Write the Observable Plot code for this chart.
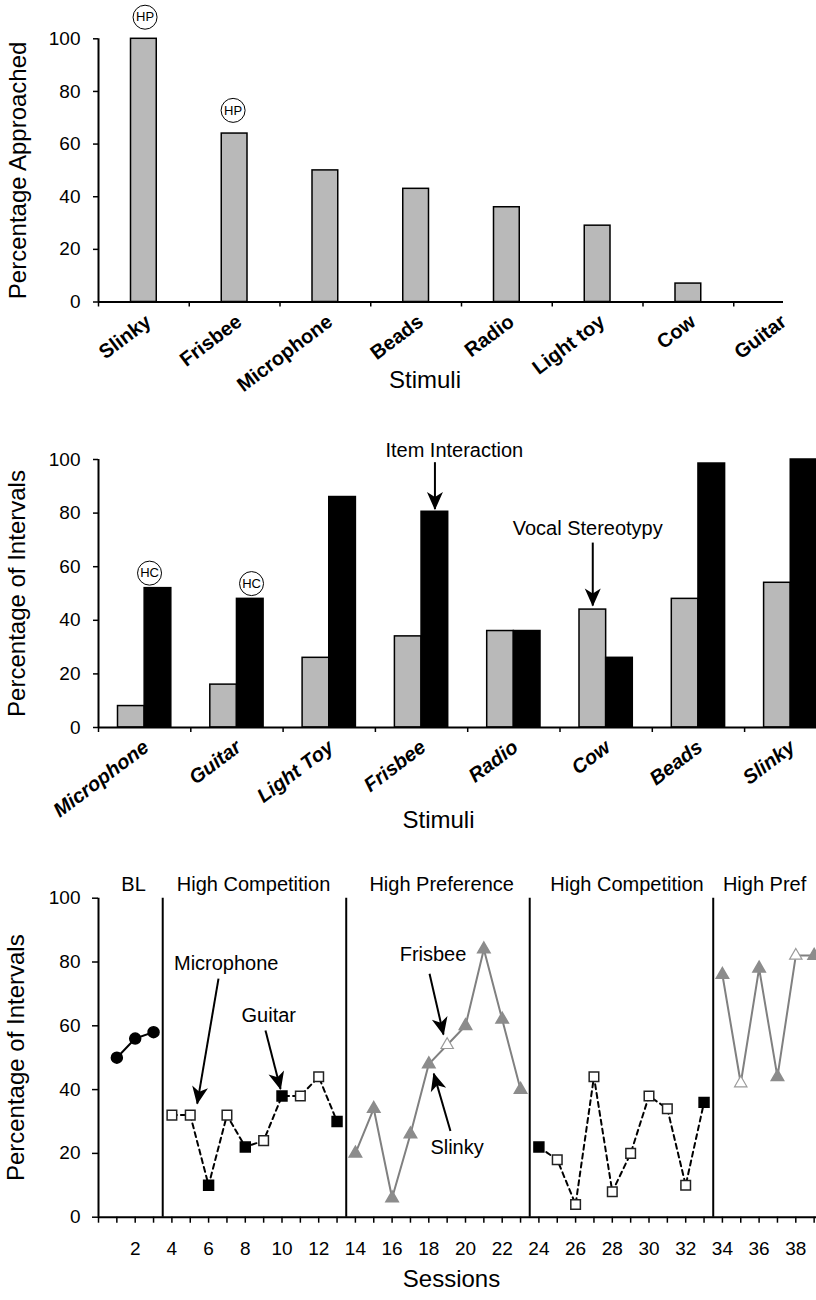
<!DOCTYPE html>
<html>
<head>
<meta charset="utf-8">
<script src="https://cdn.jsdelivr.net/npm/d3@7"></script>
<script src="https://cdn.jsdelivr.net/npm/@observablehq/plot@0.6"></script>
<style>
  html, body { margin: 0; padding: 0; background: #fff; }
  body { width: 816px; overflow: hidden; }
  #chart svg { display: block; }
</style>
</head>
<body>
<div id="chart"></div>
<script>
// ---------- Panel 1 data ----------
const stimuli1 = ["Slinky", "Frisbee", "Microphone", "Beads", "Radio", "Light toy", "Cow", "Guitar"];
const approached = [100, 64, 50, 43, 36, 29, 7, 0];
const hpLabelX = [0.513, 1.483];   // band units
const hpLabelY = [108.2, 72.8];

// ---------- Panel 2 data ----------
const stimuli2 = ["Microphone", "Guitar", "Light Toy", "Frisbee", "Radio", "Cow", "Beads", "Slinky"];
const vocalStereotypy = [8, 16, 26, 34, 36, 44, 48, 54];      // gray bars
const itemInteraction = [52, 48, 86, 80.5, 36, 26, 98.5, 100]; // black bars
const hcLabelX = [0.553, 1.658];
const hcLabelY = [57.6, 53.7];
const p2Notes = ["Item Interaction", "Vocal Stereotypy"];
const p2NoteX = [3.855, 5.30];
const p2NoteY = [103.4, 74.3];
const p2ArrowX = [3.645, 5.355];
const p2ArrowFrom = [99, 69];
const p2ArrowTo = [81.5, 45.5];

// ---------- Panel 3 data ----------
const blSessions = [1, 2, 3];
const blValues = [50, 56, 58];
const hc1Sessions = [4, 5, 6, 7, 8, 9, 10, 11, 12, 13];
const hc1Values = [32, 32, 10, 32, 22, 24, 38, 38, 44, 30];
const hc1Items = ["Microphone", "Microphone", "Guitar", "Microphone", "Guitar", "Microphone", "Guitar", "Microphone", "Microphone", "Guitar"];
const hp1Sessions = [14, 15, 16, 17, 18, 19, 20, 21, 22, 23];
const hp1Values = [20, 34, 6, 26, 48, 54, 60, 84, 62, 40];
const hp1Items = ["Slinky", "Slinky", "Slinky", "Slinky", "Slinky", "Frisbee", "Slinky", "Slinky", "Slinky", "Slinky"];
const hc2Sessions = [24, 25, 26, 27, 28, 29, 30, 31, 32, 33];
const hc2Values = [22, 18, 4, 44, 8, 20, 38, 34, 10, 36];
const hc2Items = ["Guitar", "Microphone", "Microphone", "Microphone", "Microphone", "Microphone", "Microphone", "Microphone", "Microphone", "Guitar"];
const hp2Sessions = [34, 35, 36, 37, 38, 39];
const hp2Values = [76, 42, 78, 44, 82, 82];
const hp2Items = ["Slinky", "Frisbee", "Slinky", "Slinky", "Frisbee", "Slinky"];

const phaseChanges = [3.5, 13.5, 23.5, 33.5];
const phaseNames = ["BL", "High Competition", "High Preference", "High Competition", "High Pref"];
const phaseCenters = [1.91, 8.45, 18.7, 28.8, 36.3];
const sessionTicks = d3.range(0, 40);
const sessionLabels = [2, 4, 6, 8, 10, 12, 14, 16, 18, 20, 22, 24, 26, 28, 30, 32, 34, 36, 38];
const yTicks = [0, 20, 40, 60, 80, 100];

const p3Notes = ["Microphone", "Guitar", "Frisbee", "Slinky"];
const p3NoteX = [6.96, 9.28, 18.23, 19.54];
const p3NoteY = [79.5, 63.2, 82.2, 21.9];
const p3ArrowX1 = [6.54, 9.1, 18.04, 19.18];
const p3ArrowY1 = [74.8, 58.5, 76.3, 27];
const p3ArrowX2 = [5.38, 9.92, 18.8, 18.27];
const p3ArrowY2 = [35.6, 40.2, 57.3, 45];

// ---------- helpers ----------
const FONT = '"Liberation Sans", Arial, Helvetica, sans-serif';
const NARROW = '"Liberation Sans Narrow", "Arial Narrow", "Liberation Sans", Arial, sans-serif';
const baseStyle = {fontFamily: FONT, fontSize: "19px", color: "black", background: "white", overflow: "hidden"};
const GRAYBAR = "#b9b9b9";
const GRAYTRI = "#8c8c8c";

function headMarker(color, context) {
  const m = d3.create("svg:marker")
    .attr("viewBox", "-19 -10 21 20")
    .attr("markerWidth", 21).attr("markerHeight", 20)
    .attr("markerUnits", "userSpaceOnUse")
    .attr("orient", "auto")
    .attr("refX", 0).attr("refY", 0)
    .attr("overflow", "visible");
  m.append("path").attr("d", "M1,0L-17,-8L-12,0L-17,8Z").attr("fill", "black").attr("stroke", "none");
  return m.node();
}

function arrowMark(data, useMarker) {
  if (useMarker) {
    return Plot.link(data, {x1: "x1", y1: "y1", x2: "x2", y2: "y2", stroke: "black", strokeWidth: 2, markerEnd: headMarker});
  }
  return Plot.arrow(data, {x1: "x1", y1: "y1", x2: "x2", y2: "y2", stroke: "black", strokeWidth: 2.5, headLength: 16, headAngle: 50});
}

function render(useMarker) {
  // ----- Panel 1 -----
  const rows1 = stimuli1.map((s, i) => ({i, s, v: approached[i]}));
  const hp1 = hpLabelX.map((x, i) => ({x, y: hpLabelY[i]}));
  const p1 = Plot.plot({
    width: 816, height: 410,
    marginLeft: 98, marginRight: 33, marginTop: 38.3, marginBottom: 108.5,
    style: baseStyle,
    x: {domain: [0, 8], range: [98, 98 + 8 * 90.75], axis: null},
    y: {domain: [0, 100], axis: null},
    marks: [
      Plot.rectY(rows1, {x1: d => d.i, x2: d => d.i + 1, y1: 0, y2: "v", fill: GRAYBAR, stroke: "black", strokeWidth: 1.5, insetLeft: 32.5, insetRight: 32.5}),
      Plot.ruleY([0], {strokeWidth: 2}),
      Plot.ruleX([0], {strokeWidth: 2}),
      Plot.axisY(yTicks, {anchor: "left", tickSize: 5, tickPadding: 13, label: null, strokeWidth: 1.5}),
      Plot.axisX(d3.range(0, 8), {anchor: "bottom", tickSize: 5, tickFormat: () => "", label: null, strokeWidth: 1.5}),
      Plot.text(rows1, {x: d => d.i + 0.5, y: 0, text: "s", rotate: -37, textAnchor: "end", lineAnchor: "top", dx: 0, dy: 11, fontSize: 20, fontWeight: "bold"}),
      Plot.dot(hp1, {x: "x", y: "y", r: 12, fill: "white", stroke: "black", strokeWidth: 1}),
      Plot.text(hp1, {x: "x", y: "y", text: () => "HP", fontSize: 13, fontFamily: NARROW}),
      Plot.text(["Stimuli"], {frameAnchor: "bottom", textAnchor: "middle", dx: -16, dy: 86, fontSize: 24}),
      Plot.text(["Percentage Approached"], {frameAnchor: "left", textAnchor: "middle", dx: -80, rotate: -90, fontSize: 24})
    ]
  });

  // ----- Panel 2 -----
  const rows2 = stimuli2.map((s, i) => ({i, s, g: vocalStereotypy[i], b: itemInteraction[i]}));
  const hc = hcLabelX.map((x, i) => ({x, y: hcLabelY[i]}));
  const notes2 = p2Notes.map((t, i) => ({t, x: p2NoteX[i], y: p2NoteY[i]}));
  const arrows2 = p2ArrowX.map((x, i) => ({x1: x, x2: x, y1: p2ArrowFrom[i], y2: p2ArrowTo[i]}));
  const p2 = Plot.plot({
    width: 816, height: 430,
    marginLeft: 98, marginRight: 0, marginTop: 49, marginBottom: 113,
    style: baseStyle,
    x: {domain: [0, 8], range: [98, 98 + 8 * 92.3], axis: null},
    y: {domain: [0, 100], axis: null},
    marks: [
      Plot.rectY(rows2, {x1: d => d.i, x2: d => d.i + 0.5, y1: 0, y2: "g", fill: GRAYBAR, stroke: "black", strokeWidth: 1.5, insetLeft: 19.5}),
      Plot.rectY(rows2, {x1: d => d.i + 0.5, x2: d => d.i + 1, y1: 0, y2: "b", fill: "black", stroke: "black", strokeWidth: 1.5, insetRight: 19.5}),
      Plot.ruleY([0], {strokeWidth: 2}),
      Plot.ruleX([0], {strokeWidth: 2}),
      Plot.axisY(yTicks, {anchor: "left", tickSize: 5, tickPadding: 13, label: null, strokeWidth: 1.5}),
      Plot.axisX(d3.range(0, 8), {anchor: "bottom", tickSize: 5, tickFormat: () => "", label: null, strokeWidth: 1.5}),
      Plot.text(rows2, {x: d => d.i + 0.5, y: 0, text: "s", rotate: -37, textAnchor: "end", lineAnchor: "top", dx: -3, dy: 11, fontSize: 20, fontWeight: "bold", fontStyle: "italic"}),
      Plot.dot(hc, {x: "x", y: "y", r: 12, fill: "white", stroke: "black", strokeWidth: 1}),
      Plot.text(hc, {x: "x", y: "y", text: () => "HC", fontSize: 13, fontFamily: NARROW}),
      arrowMark(arrows2, useMarker),
      Plot.text(notes2, {x: "x", y: "y", text: "t", fontSize: 20}),
      Plot.text(["Stimuli"], {frameAnchor: "bottom", textAnchor: "middle", dx: -19, dy: 100, fontSize: 24}),
      Plot.text(["Percentage of Intervals"], {frameAnchor: "left", textAnchor: "middle", dx: -81, rotate: -90, fontSize: 24})
    ]
  });

  // ----- Panel 3 -----
  const phases = [
    {phase: 0, sessions: blSessions, values: blValues, items: blSessions.map(() => "Baseline")},
    {phase: 1, sessions: hc1Sessions, values: hc1Values, items: hc1Items},
    {phase: 2, sessions: hp1Sessions, values: hp1Values, items: hp1Items},
    {phase: 3, sessions: hc2Sessions, values: hc2Values, items: hc2Items},
    {phase: 4, sessions: hp2Sessions, values: hp2Values, items: hp2Items}
  ];
  const pts = phases.flatMap(p => p.sessions.map((s, i) => ({phase: p.phase, s, v: p.values[i], item: p.items[i]})));
  const bl = pts.filter(d => d.phase === 0);
  const hcPts = pts.filter(d => d.phase === 1 || d.phase === 3);
  const hpPts = pts.filter(d => d.phase === 2 || d.phase === 4);
  const notes3 = p3Notes.map((t, i) => ({t, x: p3NoteX[i], y: p3NoteY[i]}));
  const arrows3 = p3ArrowX1.map((x, i) => ({x1: x, y1: p3ArrowY1[i], x2: p3ArrowX2[i], y2: p3ArrowY2[i]}));
  const phaseLab = phaseNames.map((t, i) => ({t, x: phaseCenters[i]}));

  const p3 = Plot.plot({
    width: 816, height: 460,
    marginLeft: 98, marginRight: 0, marginTop: 57.7, marginBottom: 83.3,
    style: baseStyle,
    x: {domain: [0, 40], range: [98, 98 + 40 * 18.35], axis: null},
    y: {domain: [0, 100], axis: null},
    marks: [
      Plot.ruleX(phaseChanges, {y1: 0, y2: 100, strokeWidth: 2}),
      Plot.ruleY([0], {strokeWidth: 2}),
      Plot.ruleX([0], {y1: 0, y2: 100, strokeWidth: 2}),
      Plot.axisY(yTicks, {anchor: "left", tickSize: 6, tickPadding: 12, label: null, strokeWidth: 1.5}),
      Plot.axisX(sessionTicks, {anchor: "bottom", tickSize: 6, tickFormat: () => "", label: null, strokeWidth: 1.5}),
      Plot.axisX(sessionLabels, {anchor: "bottom", tickSize: 0, tickPadding: 24, label: null, fontSize: 19}),
      Plot.text(phaseLab, {x: "x", y: 100, text: "t", dy: -13.7, fontSize: 20}),
      // lines
      Plot.line(bl, {x: "s", y: "v", stroke: "black", strokeWidth: 2}),
      Plot.line(hcPts, {x: "s", y: "v", z: "phase", stroke: "black", strokeWidth: 2, strokeDasharray: "5,4"}),
      Plot.line(hpPts, {x: "s", y: "v", z: "phase", stroke: "#808080", strokeWidth: 2}),
      // markers
      Plot.dot(bl, {x: "s", y: "v", r: 5.5, fill: "black", stroke: "black"}),
      Plot.dot(hcPts.filter(d => d.item === "Microphone"), {x: "s", y: "v", symbol: "square", r: 5.4, fill: "white", stroke: "#222", strokeWidth: 1.5}),
      Plot.dot(hcPts.filter(d => d.item === "Guitar"), {x: "s", y: "v", symbol: "square", r: 5.6, fill: "black", stroke: "black"}),
      Plot.dot(hpPts.filter(d => d.item === "Slinky"), {x: "s", y: "v", symbol: "triangle", r: 4.6, fill: GRAYTRI, stroke: GRAYTRI}),
      Plot.dot(hpPts.filter(d => d.item === "Frisbee"), {x: "s", y: "v", symbol: "triangle", r: 4.6, fill: "white", stroke: "#9a9a9a", strokeWidth: 1.2}),
      // annotations
      arrowMark(arrows3, useMarker),
      Plot.text(notes3, {x: "x", y: "y", text: "t", fontSize: 20}),
      Plot.text(["Sessions"], {frameAnchor: "bottom", textAnchor: "middle", dx: -6, dy: 70, fontSize: 24}),
      Plot.text(["Percentage of Intervals"], {frameAnchor: "left", textAnchor: "middle", dx: -82, rotate: -90, fontSize: 24})
    ]
  });
  return [p1, p2, p3];
}

let plots;
try { plots = render(true); } catch (e) { console.error(e); plots = render(false); }
const root = document.getElementById("chart");
plots.forEach(p => root.appendChild(p));
</script>
</body>
</html>
